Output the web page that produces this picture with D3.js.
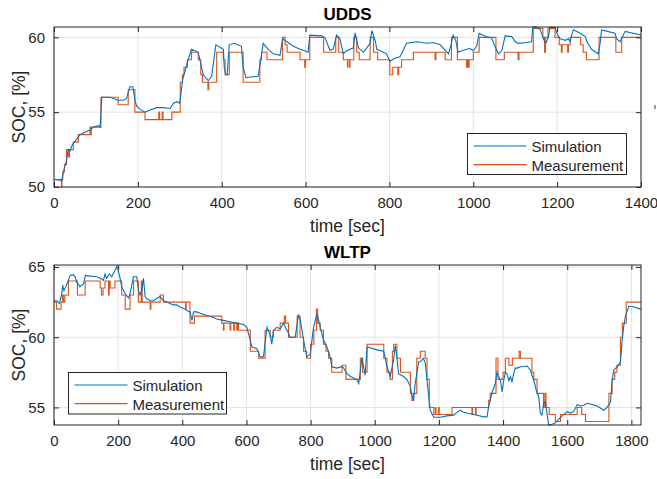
<!DOCTYPE html>
<html><head><meta charset="utf-8">
<script src="https://cdn.jsdelivr.net/npm/d3@7"></script>
<style>body{margin:0;background:#fff;}svg{display:block;font-family:"Liberation Sans",Arial,sans-serif;}</style>
</head><body>
<script>
// ---------- DATA ----------
const udds_title = "UDDS";
const wltp_title = "WLTP";
const seriesNames = ["Simulation", "Measurement"];
const udds_xTicks = [0,200,400,600,800,1000,1200,1400];
const udds_yTicks = [50,55,60];
const wltp_xTicks = [0,200,400,600,800,1000,1200,1400,1600,1800];
const wltp_yTicks = [55,60,65];

const udds_measurement = [[0,50.5],[18,50.0],[19,50.5],[21,51.0],[25,51.5],[30,52.5],[35,52.0],[37,52.5],[46,53.0],[58,53.5],[86,54.0],[87,53.5],[89,54.0],[112,56.0],[153,55.5],[177,56.5],[193,55.0],[217,54.5],[250,55.0],[252,54.5],[258,55.0],[260,54.5],[281,55.0],[301,57.0],[306,57.5],[310,58.0],[318,58.5],[328,59.0],[344,58.5],[350,57.5],[354,57.0],[367,56.5],[369,57.0],[388,59.0],[404,58.5],[408,57.5],[418,59.0],[451,57.0],[491,58.5],[495,59.0],[508,58.5],[545,60.0],[551,59.5],[556,59.0],[587,58.5],[598,58.0],[600,58.5],[610,60.0],[643,59.0],[672,60.0],[679,59.0],[690,58.5],[700,58.0],[701,58.5],[705,58.0],[706,58.5],[715,60.0],[722,59.0],[728,58.5],[754,60.0],[762,59.0],[772,58.5],[801,57.5],[808,58.0],[820,57.5],[822,58.0],[829,58.5],[857,59.0],[909,58.5],[911,59.0],[933,58.5],[948,60.0],[962,58.5],[984,58.0],[986,58.5],[988,58.0],[990,58.5],[1000,59.0],[1014,60.0],[1054,58.5],[1074,59.0],[1107,58.5],[1109,59.0],[1143,60.6],[1166,60.0],[1170,59.0],[1172,60.0],[1178,60.6],[1195,60.0],[1205,59.5],[1210,59.0],[1212,59.5],[1225,59.0],[1227,59.5],[1231,60.0],[1256,59.5],[1262,59.0],[1270,58.5],[1300,60.0],[1340,59.0],[1354,60.0],[1400,60.0]];

const udds_simulation = [[0,50.5],[14,50.45],[18,50.4],[22,51.0],[30,51.8],[34,52.5],[38,52.4],[42,52.7],[46,52.9],[54,53.2],[62,53.5],[70,53.6],[78,53.7],[86,53.8],[94,54.0],[106,54.1],[110,54.0],[114,56.0],[134,56.0],[153,55.8],[165,55.8],[173,55.9],[181,56.7],[188,56.7],[193,55.8],[197,55.4],[205,55.2],[217,55.0],[229,55.15],[245,55.3],[261,55.3],[277,55.25],[285,55.6],[293,55.7],[300,55.6],[307,57.2],[312,57.7],[320,58.5],[328,59.2],[344,59.0],[348,58.5],[356,57.5],[368,57.1],[376,57.4],[386,59.5],[404,59.2],[406,58.0],[410,57.5],[413,57.5],[418,59.5],[430,59.6],[447,59.4],[451,58.0],[458,57.3],[470,57.35],[487,57.4],[493,58.5],[499,59.6],[511,59.2],[523,58.9],[539,58.8],[545,59.9],[555,59.7],[571,59.4],[587,59.2],[598,59.1],[606,59.0],[610,60.15],[638,60.1],[646,60.0],[658,59.15],[666,59.2],[674,60.15],[682,59.9],[690,58.9],[698,59.1],[714,59.3],[718,60.3],[726,59.3],[738,59.0],[746,59.3],[754,59.6],[758,60.45],[766,59.8],[770,59.2],[778,59.1],[793,58.9],[801,58.4],[813,58.6],[825,58.7],[829,58.9],[841,59.6],[865,59.7],[889,59.6],[905,59.65],[921,59.5],[941,58.9],[947,59.5],[952,60.15],[958,59.8],[964,59.0],[973,59.1],[984,59.2],[992,59.25],[1000,59.1],[1008,59.4],[1014,60.27],[1030,60.05],[1044,59.95],[1050,59.5],[1060,58.9],[1068,59.1],[1076,60.1],[1092,60.05],[1100,59.7],[1107,59.6],[1127,59.65],[1139,59.7],[1142,60.68],[1151,60.68],[1160,60.5],[1167,59.9],[1173,59.6],[1179,60.0],[1183,60.68],[1195,60.65],[1199,60.3],[1207,59.9],[1220,59.8],[1227,59.9],[1231,59.7],[1235,60.2],[1239,60.5],[1255,60.27],[1267,60.05],[1271,59.7],[1282,59.2],[1298,58.9],[1302,59.5],[1306,60.5],[1338,60.27],[1342,59.9],[1350,59.7],[1362,60.4],[1400,60.15]];

const wltp_measurement = [[0,62.5],[8,62.0],[22,62.5],[26,63.0],[30,62.5],[34,63.0],[45,64.0],[73,63.0],[97,64.0],[144,63.5],[148,63.0],[153,63.5],[159,64.0],[170,63.0],[172,64.0],[175,63.5],[190,64.0],[211,63.0],[222,62.0],[237,63.0],[248,64.0],[263,62.5],[272,64.0],[275,62.5],[300,62.0],[302,62.5],[331,63.0],[341,62.5],[410,62.0],[412,62.5],[424,61.0],[438,61.5],[523,61.0],[528,60.5],[530,61.0],[549,60.5],[551,61.0],[560,60.5],[562,61.0],[570,60.5],[572,61.0],[575,60.5],[612,59.0],[638,58.5],[658,60.5],[674,60.0],[684,60.5],[705,61.0],[718,61.5],[722,61.0],[731,60.0],[758,61.5],[767,60.0],[778,59.0],[788,58.5],[800,59.5],[810,60.5],[818,62.0],[822,61.0],[830,60.5],[840,59.5],[848,59.0],[856,58.5],[866,57.5],[898,58.0],[910,57.0],[955,58.5],[962,57.5],[976,59.5],[1028,58.5],[1038,57.5],[1048,57.0],[1055,59.0],[1059,59.5],[1069,58.5],[1080,57.5],[1111,56.0],[1116,55.5],[1121,56.0],[1131,58.5],[1142,59.0],[1157,58.5],[1163,57.0],[1170,55.0],[1184,54.5],[1189,55.0],[1191,54.5],[1199,55.0],[1201,54.5],[1241,55.0],[1303,54.5],[1305,55.0],[1314,54.5],[1316,55.0],[1355,55.5],[1360,56.0],[1378,58.5],[1384,57.0],[1400,57.5],[1407,58.5],[1418,58.0],[1429,58.5],[1450,59.0],[1454,58.5],[1490,57.5],[1496,57.0],[1506,56.0],[1526,55.0],[1530,56.0],[1534,55.0],[1544,54.5],[1563,54.0],[1579,54.5],[1631,55.0],[1645,54.5],[1657,54.0],[1730,56.0],[1740,57.0],[1748,57.5],[1755,58.0],[1766,60.0],[1772,61.0],[1784,62.5],[1830,62.5]];

const wltp_simulation = [[0,62.6],[8,62.6],[17,62.4],[24,63.1],[27,63.7],[31,63.3],[37,63.6],[45,64.05],[50,64.4],[60,64.45],[66,64.3],[71,63.9],[81,63.6],[92,63.8],[98,64.4],[112,64.35],[133,64.3],[144,64.2],[154,64.05],[159,64.5],[164,64.2],[173,64.5],[180,64.3],[190,64.75],[196,65.05],[201,64.65],[206,64.2],[211,63.6],[222,63.1],[232,62.8],[237,63.1],[248,64.3],[258,64.3],[263,63.35],[268,63.0],[274,63.35],[279,64.2],[284,62.9],[289,62.75],[300,62.6],[310,62.6],[320,62.75],[331,62.9],[341,62.6],[352,62.5],[362,62.4],[372,62.3],[383,62.3],[393,62.15],[404,62.05],[414,61.9],[424,61.8],[430,61.2],[435,61.8],[445,61.8],[456,61.7],[476,61.55],[497,61.4],[507,61.3],[528,61.2],[549,61.1],[570,61.0],[591,60.9],[601,60.7],[612,59.8],[617,59.3],[632,59.2],[643,58.6],[653,58.6],[664,60.7],[674,60.15],[679,59.5],[684,60.5],[695,60.7],[705,60.6],[716,61.0],[721,60.7],[731,60.3],[736,60.0],[752,60.0],[762,61.55],[768,61.2],[778,59.8],[788,58.6],[799,58.8],[809,60.7],[820,61.7],[830,60.7],[840,59.8],[851,59.3],[861,58.6],[866,57.9],[882,57.8],[898,57.9],[903,57.8],[913,57.4],[924,57.2],[944,57.0],[950,56.7],[955,57.6],[960,58.55],[965,57.9],[970,57.3],[976,59.3],[986,59.25],[1007,59.1],[1028,59.0],[1038,57.9],[1048,57.2],[1059,58.4],[1064,59.4],[1069,58.6],[1074,57.4],[1090,57.2],[1100,57.0],[1111,56.5],[1116,55.8],[1121,55.5],[1126,56.7],[1137,58.25],[1142,58.25],[1152,58.5],[1158,58.1],[1163,56.9],[1173,54.8],[1184,54.3],[1204,54.3],[1225,54.4],[1246,54.45],[1256,54.65],[1267,54.8],[1277,54.65],[1298,54.55],[1319,54.45],[1340,54.33],[1350,54.33],[1355,55.05],[1360,55.5],[1366,56.1],[1376,56.7],[1381,57.5],[1392,56.9],[1397,56.1],[1402,56.9],[1407,57.5],[1412,57.4],[1418,56.9],[1423,57.2],[1428,56.8],[1433,57.4],[1438,57.8],[1444,57.8],[1454,57.9],[1475,57.95],[1485,57.65],[1496,56.9],[1506,56.0],[1511,55.8],[1516,54.6],[1521,54.45],[1527,55.3],[1532,55.4],[1537,54.6],[1542,53.75],[1553,53.8],[1563,53.9],[1579,54.3],[1600,54.7],[1610,54.6],[1620,54.7],[1631,55.2],[1641,55.1],[1652,55.15],[1662,55.3],[1672,55.25],[1693,55.1],[1714,54.8],[1724,55.0],[1735,55.4],[1740,56.9],[1745,57.65],[1756,57.9],[1766,58.25],[1771,59.7],[1776,60.75],[1782,61.55],[1792,62.2],[1808,62.15],[1830,62.0]];

// ---------- DRAW ----------
const W = 657, H = 479;
const svg = d3.select("body").append("svg").attr("width", W).attr("height", H);
const BLUE = "#0072BD", ORANGE = "#D95319", AX = "#262626", GRID = "#e3e3e3";

function panel(o) {
  const x = d3.scaleLinear().domain(o.xDomain).range([o.left, o.right]);
  const y = d3.scaleLinear().domain(o.yDomain).range([o.bottom, o.top]);
  const g = svg.append("g");
  // grid
  g.selectAll(".gx").data(o.xTicks).enter().append("line")
    .attr("x1", d => x(d)).attr("x2", d => x(d)).attr("y1", o.top).attr("y2", o.bottom)
    .attr("stroke", GRID).attr("stroke-width", 1);
  g.selectAll(".gy").data(o.yTicks).enter().append("line")
    .attr("y1", d => y(d)).attr("y2", d => y(d)).attr("x1", o.left).attr("x2", o.right)
    .attr("stroke", GRID).attr("stroke-width", 1);
  // clip
  const cid = "clip" + o.id;
  svg.append("clipPath").attr("id", cid).append("rect")
    .attr("x", o.left).attr("y", o.top - 1).attr("width", o.right - o.left).attr("height", o.bottom - o.top + 2);
  const lines = g.append("g").attr("clip-path", `url(#${cid})`);
  const lineSim = d3.line().x(d => x(d[0])).y(d => y(d[1]));
  const lineMeas = d3.line().x(d => x(d[0])).y(d => y(d[1])).curve(d3.curveStepAfter);
  lines.append("path").datum(o.meas).attr("d", lineMeas).attr("fill", "none")
    .attr("stroke", ORANGE).attr("stroke-width", 1.1);
  lines.append("path").datum(o.sim).attr("d", lineSim).attr("fill", "none")
    .attr("stroke", BLUE).attr("stroke-width", 1.1);
  // axes (ticks inward, labels)
  const xb = d3.axisBottom(x).tickValues(o.xTicks).tickSize(-5).tickPadding(10).tickFormat(d3.format("d"));
  const xt = d3.axisTop(x).tickValues(o.xTicks).tickSize(-5).tickFormat("");
  const yl = d3.axisLeft(y).tickValues(o.yTicks).tickSize(-5).tickPadding(9).tickFormat(d3.format("d"));
  const yr = d3.axisRight(y).tickValues(o.yTicks).tickSize(-5).tickFormat("");
  const styleAxis = sel => {
    sel.select(".domain").remove();
    sel.selectAll("line").attr("stroke", AX);
    sel.selectAll("text").attr("fill", AX).style("font-size", "15px")
      .style("font-family", '"Liberation Sans",Arial,sans-serif');
  };
  g.append("g").attr("transform", `translate(0,${o.bottom})`).call(xb).call(styleAxis);
  g.append("g").attr("transform", `translate(0,${o.top})`).call(xt).call(styleAxis);
  g.append("g").attr("transform", `translate(${o.left},0)`).call(yl).call(styleAxis);
  g.append("g").attr("transform", `translate(${o.right},0)`).call(yr).call(styleAxis);
  g.append("rect").attr("x", o.left).attr("y", o.top).attr("width", o.right - o.left)
    .attr("height", o.bottom - o.top).attr("fill", "none").attr("stroke", AX).attr("stroke-width", 1);
  // title & labels
  const cx = (o.left + o.right) / 2;
  g.append("text").attr("x", cx).attr("y", o.top - 7).attr("text-anchor", "middle")
    .style("font-size", "17px").style("font-weight", "bold").attr("fill", "#000").text(o.title);
  g.append("text").attr("x", cx).attr("y", o.bottom + 45).attr("text-anchor", "middle")
    .style("font-size", "17.5px").attr("fill", AX).text("time [sec]");
  g.append("text").attr("transform", `translate(24.5,${(o.top + o.bottom) / 2}) rotate(-90)`)
    .attr("text-anchor", "middle").style("font-size", "17.5px").attr("fill", AX).text("SOC, [%]");
  // legend
  const L = o.legend;
  const lg = g.append("g");
  lg.append("rect").attr("x", L.x).attr("y", L.y).attr("width", L.w).attr("height", L.h)
    .attr("fill", "#fff").attr("stroke", AX).attr("stroke-width", 1);
  const cols = [BLUE, ORANGE];
  seriesNames.forEach((n, i) => {
    const ly = L.y + 12.5 + i * 18.6;
    lg.append("line").attr("x1", L.x + 6).attr("x2", L.x + 59).attr("y1", ly).attr("y2", ly)
      .attr("stroke", cols[i]).attr("stroke-width", 1.1);
    lg.append("text").attr("x", L.x + 64).attr("y", ly + 6).style("font-size", "15px")
      .attr("fill", AX).text(n);
  });
}

panel({id: "u", title: udds_title, left: 54, right: 641, top: 27, bottom: 187,
  xDomain: [0, 1400], yDomain: [50, 60.69], xTicks: udds_xTicks, yTicks: udds_yTicks,
  meas: udds_measurement, sim: udds_simulation,
  legend: {x: 467.5, y: 133.5, w: 159, h: 41}});
panel({id: "w", title: wltp_title, left: 54, right: 641, top: 265, bottom: 425,
  xDomain: [0, 1830], yDomain: [53.75, 65.14], xTicks: wltp_xTicks, yTicks: wltp_yTicks,
  meas: wltp_measurement, sim: wltp_simulation,
  legend: {x: 68.5, y: 372.5, w: 158, h: 41.5}});

// small stray mark at right edge of the reference
svg.append("rect").attr("x", 654).attr("y", 105).attr("width", 2).attr("height", 4).attr("fill", "#9a9a9a");
</script>
</body></html>
